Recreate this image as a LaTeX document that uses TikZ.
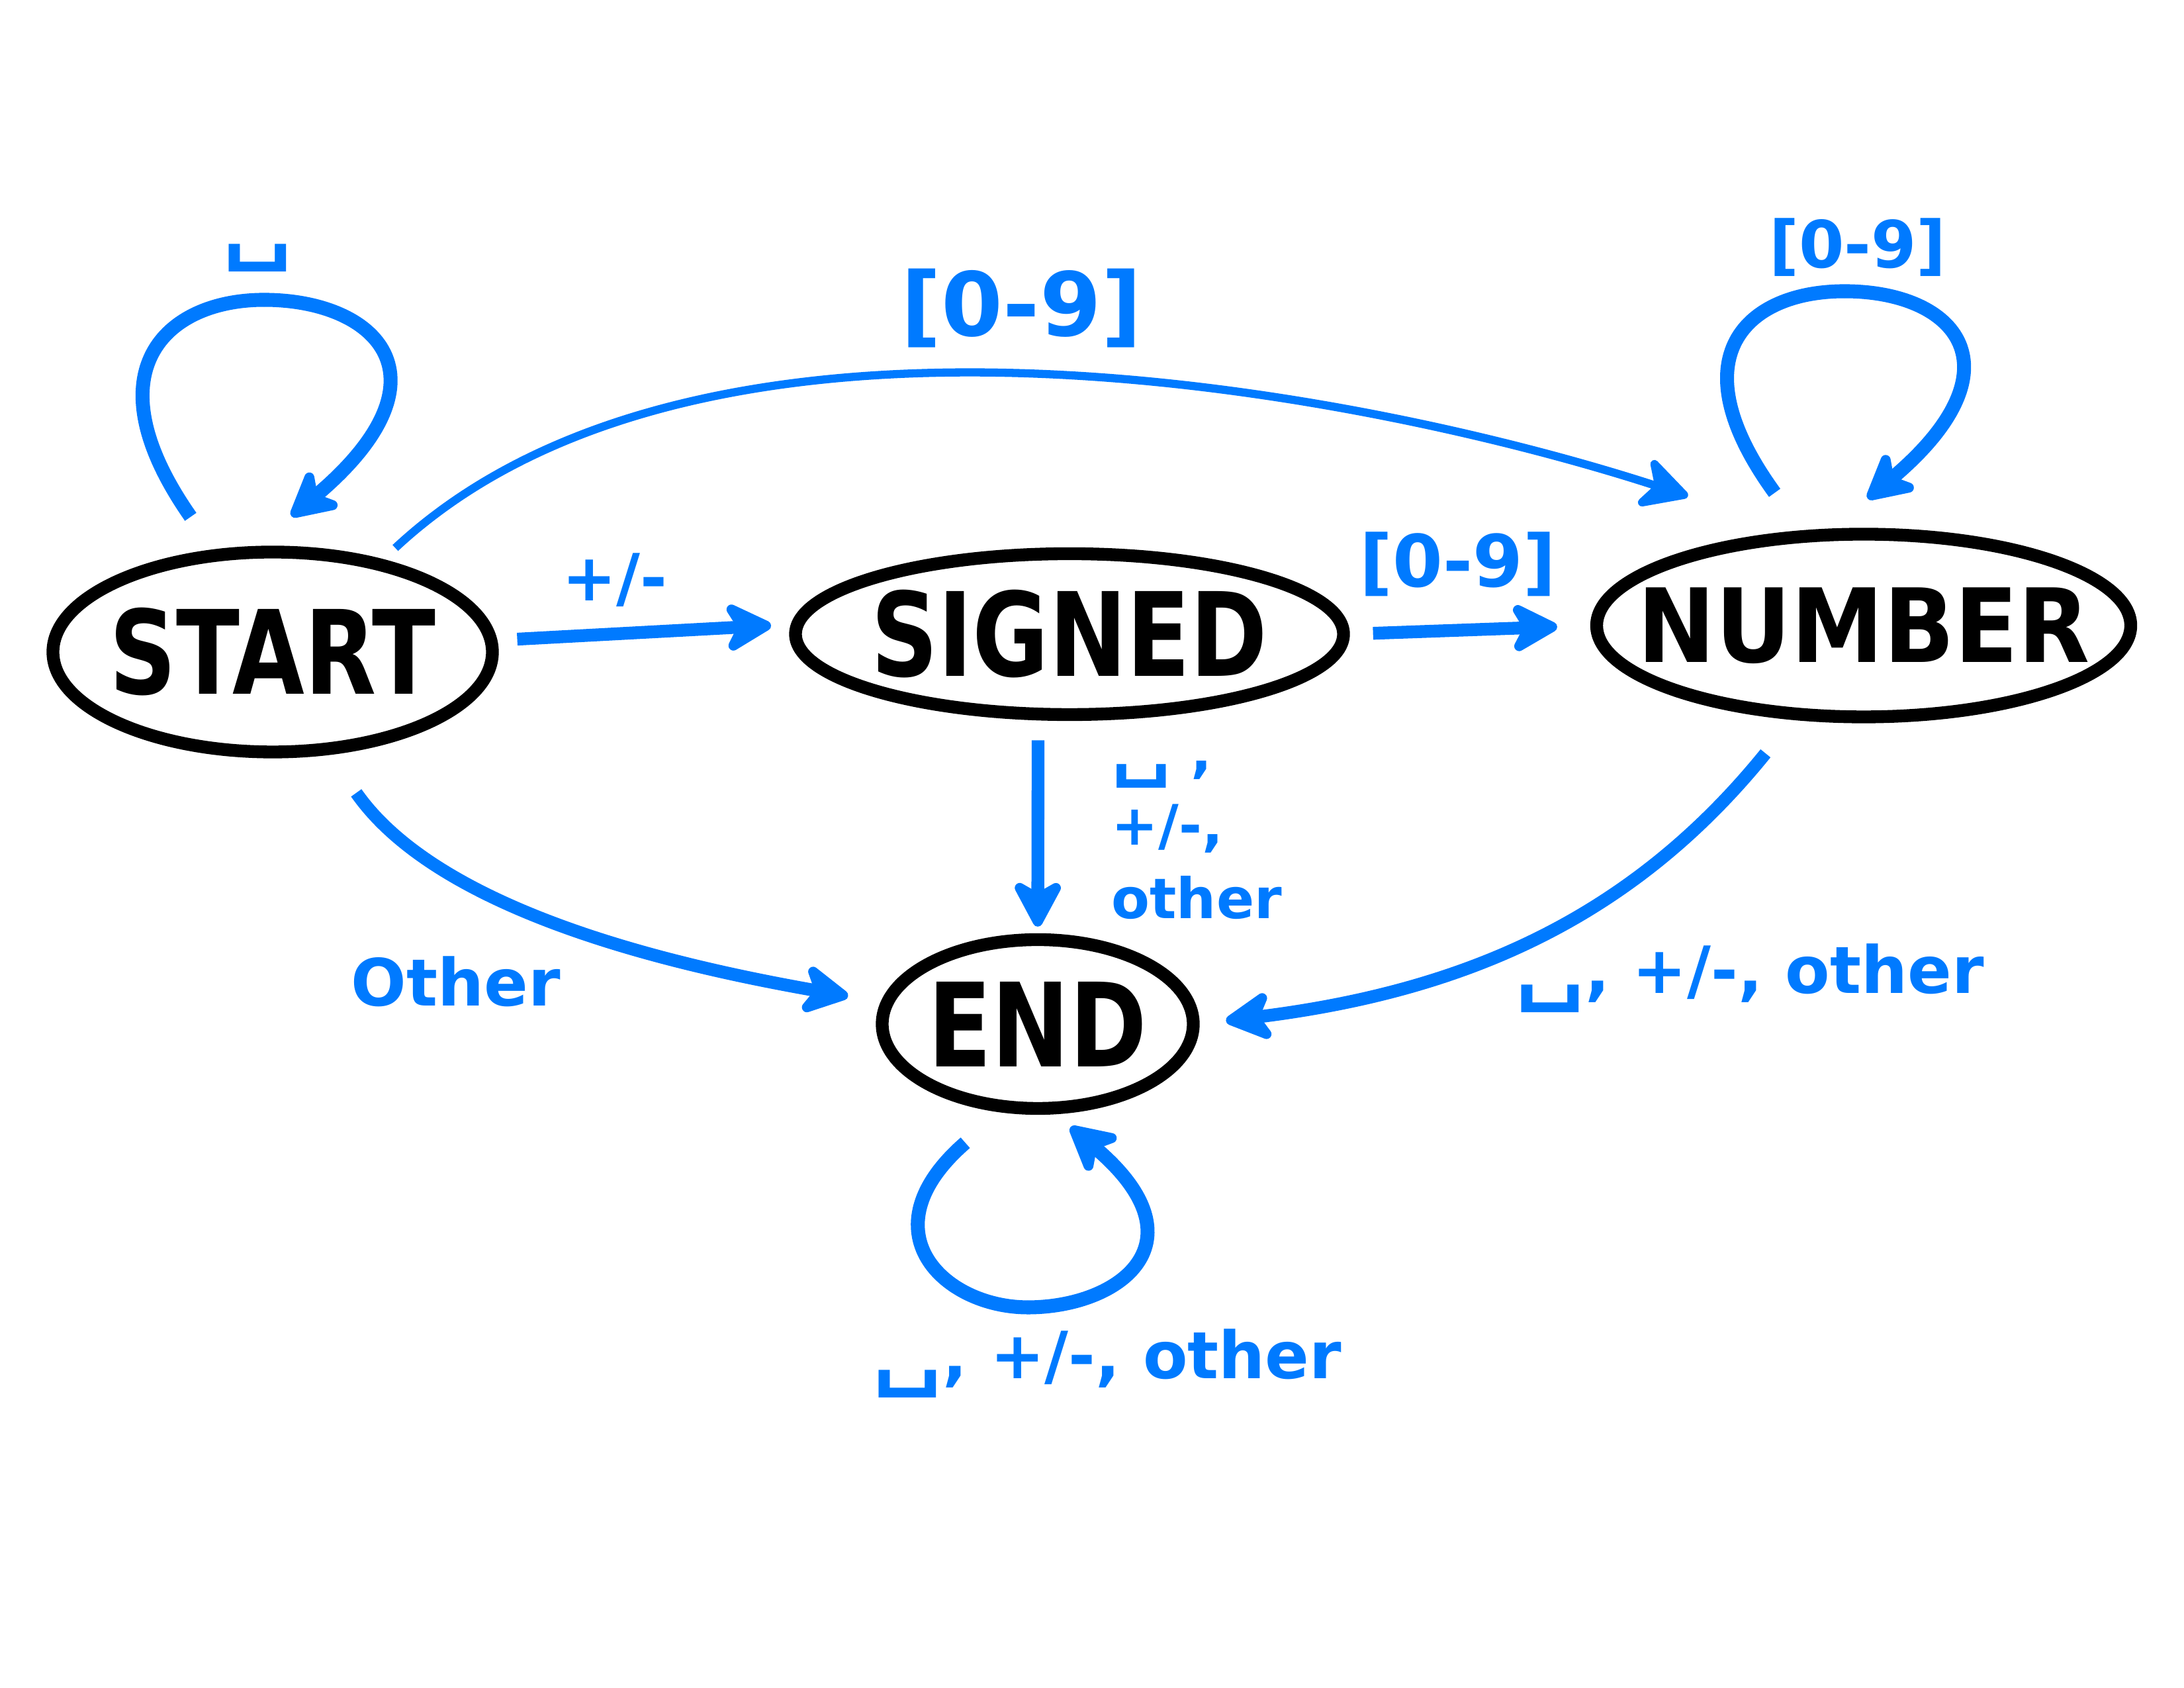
\documentclass[tikz,border=0pt]{standalone}
\usepackage{fontspec}
\usepackage{graphicx}
\setmainfont{DejaVu Sans}
\usetikzlibrary{automata, positioning, arrows.meta, shapes.geometric}
\definecolor{penblue}{RGB}{0,122,255}
\newcommand{\spacemark}{\scalebox{1.5}[1.3]{␣}}
\newcommand{\tall}[2][1.25]{\scalebox{1}[#1]{#2}}
\tikzset{
  scanner/.style={
	->,  % every edge is directed
	>={Stealth[length=8.5mm, width=9mm, inset=2.5mm, round]}, % pen-like arrow heads
	color=penblue, line width=5.5pt, % blue marker strokes
	font=\fontsize{28}{34}\selectfont\bfseries, % size of the edge labels
	every state/.style={ellipse, draw=black, text=black, line width=5.5pt, inner xsep=-6mm, inner ysep=0pt, font=\fontsize{40}{40}\selectfont\bfseries}, % ovals for the states
	selfloop/.style={line width=6pt}, % the self loops are a bit heavier
  }
}

\begin{document}
\begin{tikzpicture}[scanner]
\useasboundingbox (0,0) rectangle (33,25.5);
\node[state, minimum width=6.64cm, minimum height=3.02cm] (start) at (4.12,15.65) {\tall{START}};
\node[state, minimum width=8.28cm, minimum height=2.43cm] (signed) at (16.16,15.92) {\tall{SIGNED}};
\node[state, minimum width=8.07cm, minimum height=2.76cm] (number) at (28.16,16.05) {\tall[1.1]{NUMBER}};
\node[state, minimum width=4.70cm, minimum height=2.55cm] (end) at (15.68,10.03) {\tall{END}};
% turning points of the self loops
\coordinate (starttop) at (3.99,20.97);
\coordinate (numbertop) at (27.87,21.10);
\coordinate (endbottom) at (15.53,5.75);
\path   (start.120) edge[selfloop, -, out=125, in=180, out looseness=2.18, in looseness=0.99, shorten <=6mm] node[pos=1, above=2mm, xshift=-1mm]{\spacemark} (starttop)
	(starttop) edge[selfloop, out=0, in=40, out looseness=1.16, in looseness=2.72, shorten >=7mm] (start.99)
	(number.123) edge[selfloop, -, out=126, in=180, out looseness=2.27, in looseness=1.03, shorten <=7mm] node[pos=1, above=0mm, xshift=2mm]{[0-9]} (numbertop)
	(numbertop) edge[selfloop, out=0, in=40, out looseness=1.2, in looseness=2.69, shorten >=7mm] (number.108)
	(end.247) edge[selfloop, -, out=221, in=180, out looseness=2.35, in looseness=1.09, shorten <=7mm] node[pos=1, below=1mm, xshift=12mm]{\spacemark, +/-, other} (endbottom)
	(endbottom) edge[selfloop, out=0, in=-40, out looseness=1.21, in looseness=2.6, shorten >=3mm] (end.281)
	(start.40) edge[out=43, in=162, looseness=0.8, line width=3.5pt, shorten <=2.5mm, shorten >=17mm] node[above=3mm, pos=0.48, font=\fontsize{38}{40}\selectfont\bfseries]{[0-9]} (number.126)
	(start.3) edge[shorten <=3mm, shorten >=3mm] node[above=2mm, pos=0.4]{+/-} (signed.178)
	(signed.east) edge[shorten <=3.5mm, shorten >=5mm] node[above=3mm, pos=0.45, font=\fontsize{31}{34}\selectfont\bfseries]{[0-9]} (number.west)
	(signed.250) edge[shorten <=3mm, shorten >=1mm] node[right=9mm, yshift=-2mm, align=left, font=\fontsize{24}{26}\selectfont\bfseries]{\spacemark\ ,\\[2mm]+/-,\\[2mm]other} (end.north)
	(start.299) edge[out=-55, in=170, looseness=0.83, shorten <=7mm, shorten >=5mm] node[pos=0.25, below=13mm, xshift=3mm]{Other} (end.172)
	(number.233) edge[out=231, in=7, looseness=1, shorten <=6.5mm, shorten >=4mm] node[pos=0.32, below, xshift=18mm, yshift=-8mm]{\spacemark, +/-, other} (end.east)
;
\end{tikzpicture}
\end{document}
